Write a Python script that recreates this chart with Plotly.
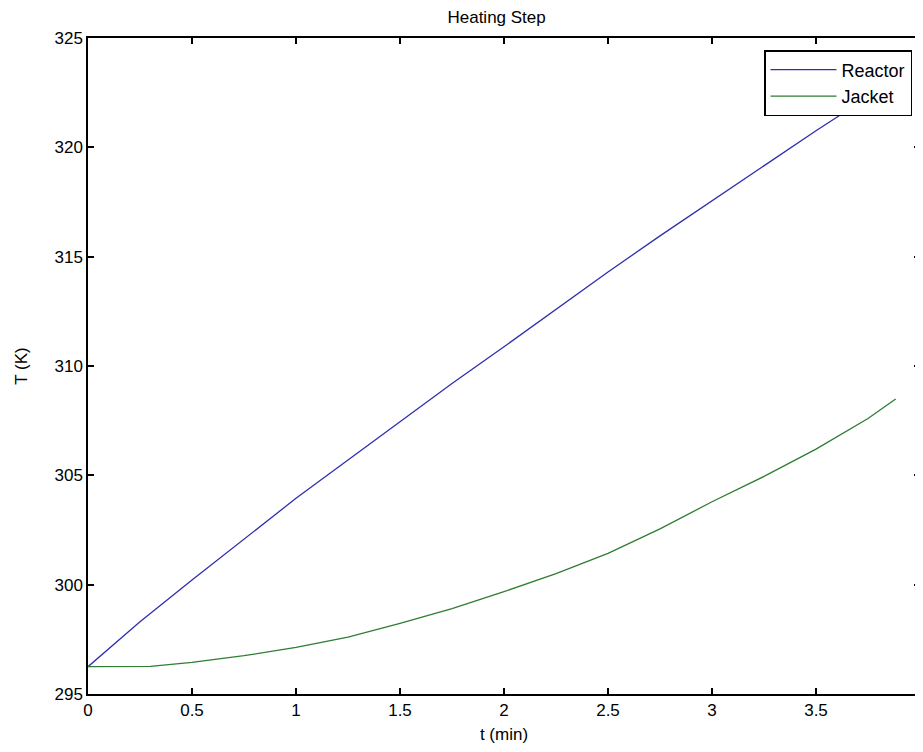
import plotly.graph_objects as go

t_reactor = [0, 0.25, 0.5, 0.75, 1.0, 1.25, 1.5, 1.75, 2.0, 2.25, 2.5, 2.75, 3.0, 3.25, 3.5, 3.75, 3.883]
T_reactor = [296.25, 298.3, 300.21, 302.1, 303.95, 305.7, 307.45, 309.2, 310.88, 312.6, 314.3, 315.95, 317.54, 319.15, 320.76, 322.3, 323.2]

t_jacket = [0, 0.1, 0.2, 0.3, 0.5, 0.75, 1.0, 1.25, 1.5, 1.75, 2.0, 2.25, 2.5, 2.75, 3.0, 3.25, 3.5, 3.75, 3.883]
T_jacket = [296.25, 296.25, 296.25, 296.26, 296.45, 296.75, 297.13, 297.6, 298.23, 298.9, 299.68, 300.5, 301.43, 302.55, 303.79, 304.95, 306.2, 307.6, 308.49]

x_ticks = [0, 0.5, 1, 1.5, 2, 2.5, 3, 3.5, 4]
y_ticks = [295, 300, 305, 310, 315, 320, 325]

FONT = "Liberation Sans, Arial, sans-serif"

fig = go.Figure()
fig.add_trace(go.Scatter(x=t_reactor, y=T_reactor, mode="lines", name="Reactor",
                         line=dict(color="#2f2fb0", width=1.3)))
fig.add_trace(go.Scatter(x=t_jacket, y=T_jacket, mode="lines", name="Jacket",
                         line=dict(color="#2e7d32", width=1.3)))

axis_common = dict(
    showgrid=False, zeroline=False, showline=True, linecolor="black", linewidth=1.5,
    mirror="ticks", ticks="inside", ticklen=6, tickwidth=1.5, tickcolor="black",
    tickfont=dict(family=FONT, size=17, color="black"), automargin=False,
    ticklabeloverflow="allow",
)

fig.update_layout(
    width=915, height=736,
    margin=dict(l=80, r=3, t=30, b=50),
    paper_bgcolor="white", plot_bgcolor="white",
    font=dict(family=FONT, color="black"),
    title=dict(text="Heating Step", x=0.534, xref="container", xanchor="center",
               y=0.988, yref="container", yanchor="middle",
               font=dict(family=FONT, size=17, color="black"), automargin=False),
    xaxis=dict(range=[0, 4], tickvals=x_ticks, ticktext=[str(v) for v in x_ticks],
               title=dict(text="t (min)", font=dict(family=FONT, size=17), standoff=12),
               **axis_common),
    yaxis=dict(range=[295, 325], tickvals=y_ticks, ticktext=[str(v) for v in y_ticks],
               title=dict(text="T (K)", font=dict(family=FONT, size=17), standoff=23),
               **axis_common),
    legend=dict(x=0.9904, xanchor="right", y=0.9817, yanchor="top",
                bgcolor="white", bordercolor="black", borderwidth=1.5,
                font=dict(family=FONT, size=18, color="black"),
                itemwidth=66, tracegroupgap=0),
    showlegend=True,
)

fig.write_html("out.html")
